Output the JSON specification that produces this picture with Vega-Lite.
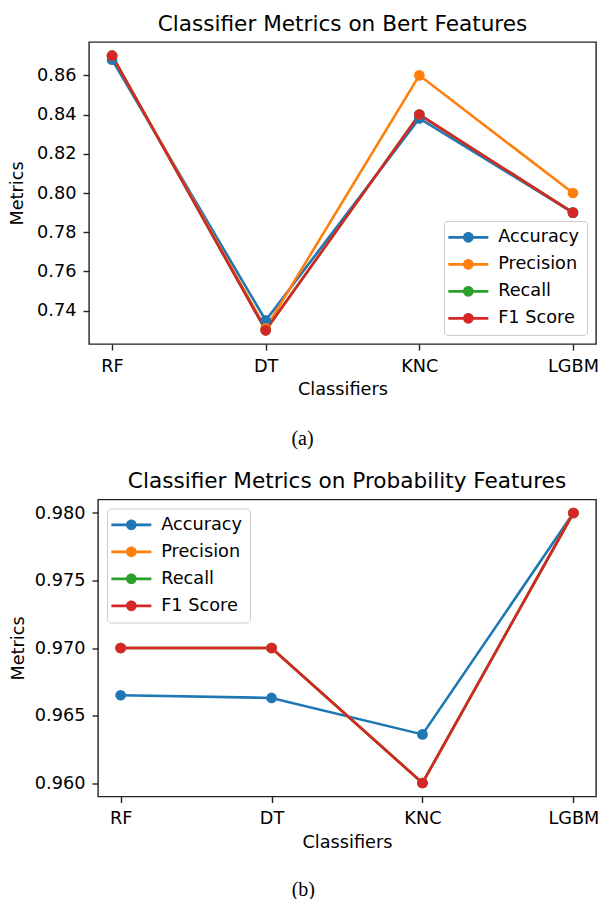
{
  "$schema": "https://vega.github.io/schema/vega-lite/v6.json",
  "padding": {"left": 7, "top": 13, "right": 0, "bottom": 0},
  "align": "none",
  "spacing": 20.5,
  "resolve": {"scale": {"color": "independent", "x": "independent", "y": "independent"}, "legend": {"color": "independent"}},
  "config": {
    "font": "DejaVu Sans",
    "view": {"stroke": "#222", "strokeWidth": 1.4},
    "axis": {"grid": false, "domain": false, "tickColor": "#222", "tickWidth": 1.4, "tickSize": 6, "labelFontSize": 17.7, "labelColor": "#000", "labelFont": "DejaVu Sans", "titleFont": "DejaVu Sans", "titleFontSize": 17.7, "titleFontWeight": "normal", "titleColor": "#000", "labelPadding": 7},
    "axisX": {"titlePadding": 6, "labelAngle": 0}
  },
  "vconcat": [
    {
      "title": {"text": "(a)", "orient": "bottom", "anchor": "middle", "font": "Liberation Serif", "fontSize": 20, "fontWeight": "normal", "color": "#000", "offset": 30, "dx": -1},
      "resolve": {"scale": {"color": "independent"}, "legend": {"color": "independent"}},
      "vconcat": [
        {
          "width": 507,
          "height": 302,
          "title": {"text": "Classifier Metrics on Bert Features", "fontSize": 21.6, "font": "DejaVu Sans", "fontWeight": "normal", "offset": 6.5, "color": "#000", "anchor": "middle"},
          "data": {"values": [
            {"Classifier": "RF", "Metric": "Accuracy", "Value": 0.868},
            {"Classifier": "DT", "Metric": "Accuracy", "Value": 0.735},
            {"Classifier": "KNC", "Metric": "Accuracy", "Value": 0.838},
            {"Classifier": "LGBM", "Metric": "Accuracy", "Value": 0.79},
            {"Classifier": "RF", "Metric": "Precision", "Value": 0.87},
            {"Classifier": "DT", "Metric": "Precision", "Value": 0.731},
            {"Classifier": "KNC", "Metric": "Precision", "Value": 0.86},
            {"Classifier": "LGBM", "Metric": "Precision", "Value": 0.8},
            {"Classifier": "RF", "Metric": "Recall", "Value": 0.87},
            {"Classifier": "DT", "Metric": "Recall", "Value": 0.73},
            {"Classifier": "KNC", "Metric": "Recall", "Value": 0.84},
            {"Classifier": "LGBM", "Metric": "Recall", "Value": 0.79},
            {"Classifier": "RF", "Metric": "F1 Score", "Value": 0.87},
            {"Classifier": "DT", "Metric": "F1 Score", "Value": 0.73},
            {"Classifier": "KNC", "Metric": "F1 Score", "Value": 0.84},
            {"Classifier": "LGBM", "Metric": "F1 Score", "Value": 0.79}
          ]},
          "encoding": {
            "x": {"field": "Classifier", "type": "nominal", "sort": null, "scale": {"type": "point", "domain": ["RF", "DT", "KNC", "LGBM"], "padding": 0.15}, "axis": {"title": "Classifiers", "labelAngle": 0}},
            "y": {"field": "Value", "type": "quantitative", "scale": {"domain": [0.723, 0.877], "nice": false, "zero": false}, "axis": {"title": "Metrics", "titlePadding": 10, "values": [0.74, 0.76, 0.78, 0.8, 0.82, 0.84, 0.86], "format": ".2f"}},
            "color": {"field": "Metric", "type": "nominal", "scale": {"domain": ["Accuracy", "Precision", "Recall", "F1 Score"], "range": ["#1f77b4", "#ff7f0e", "#2ca02c", "#d62728"]},
              "legend": {"title": null, "orient": "bottom-right", "offset": 9, "symbolType": "M-4,-0.26H4V0.26H-4Z M1.07,0A1.07,1.07,0,1,1,-1.07,0A1.07,1.07,0,1,1,1.07,0Z", "symbolSize": 100, "symbolOffset": 8, "symbolStrokeWidth": 0, "symbolOpacity": 1, "labelOffset": 21, "labelFontSize": 17.7, "labelFont": "DejaVu Sans", "labelColor": "#000", "padding": 7.5, "rowPadding": 8, "strokeColor": "#cccccc", "fillColor": "rgba(255,255,255,0.8)", "cornerRadius": 3.5}}
          },
          "layer": [
            {"mark": {"type": "line", "strokeWidth": 2.6}, "encoding": {"order": {"value": null}}},
            {"mark": {"type": "point", "filled": true, "size": 115, "opacity": 1}}
          ]
        }
      ]
    },
    {
      "title": {"text": "(b)", "orient": "bottom", "anchor": "middle", "font": "Liberation Serif", "fontSize": 20, "fontWeight": "normal", "color": "#000", "offset": 28, "dx": -1},
      "resolve": {"scale": {"color": "independent"}, "legend": {"color": "independent"}},
      "bounds": "flush",
      "spacing": 0,
      "hconcat": [
        {"width": 9, "height": 10, "view": {"stroke": null}, "data": {"values": []}, "mark": "point"},
        {
          "width": 498,
          "height": 297,
          "title": {"text": "Classifier Metrics on Probability Features", "fontSize": 21.6, "font": "DejaVu Sans", "fontWeight": "normal", "offset": 6.5, "color": "#000", "anchor": "middle"},
          "data": {"values": [
            {"Classifier": "RF", "Metric": "Accuracy", "Value": 0.9665},
            {"Classifier": "DT", "Metric": "Accuracy", "Value": 0.9663},
            {"Classifier": "KNC", "Metric": "Accuracy", "Value": 0.9636},
            {"Classifier": "LGBM", "Metric": "Accuracy", "Value": 0.98},
            {"Classifier": "RF", "Metric": "Precision", "Value": 0.97},
            {"Classifier": "DT", "Metric": "Precision", "Value": 0.97},
            {"Classifier": "KNC", "Metric": "Precision", "Value": 0.96},
            {"Classifier": "LGBM", "Metric": "Precision", "Value": 0.98},
            {"Classifier": "RF", "Metric": "Recall", "Value": 0.97},
            {"Classifier": "DT", "Metric": "Recall", "Value": 0.97},
            {"Classifier": "KNC", "Metric": "Recall", "Value": 0.96},
            {"Classifier": "LGBM", "Metric": "Recall", "Value": 0.98},
            {"Classifier": "RF", "Metric": "F1 Score", "Value": 0.97},
            {"Classifier": "DT", "Metric": "F1 Score", "Value": 0.97},
            {"Classifier": "KNC", "Metric": "F1 Score", "Value": 0.96},
            {"Classifier": "LGBM", "Metric": "F1 Score", "Value": 0.98}
          ]},
          "encoding": {
            "x": {"field": "Classifier", "type": "nominal", "sort": null, "scale": {"type": "point", "domain": ["RF", "DT", "KNC", "LGBM"], "padding": 0.15}, "axis": {"title": "Classifiers", "labelAngle": 0}},
            "y": {"field": "Value", "type": "quantitative", "scale": {"domain": [0.959, 0.981], "nice": false, "zero": false}, "axis": {"title": "Metrics", "titlePadding": 6.5, "values": [0.96, 0.965, 0.97, 0.975, 0.98], "format": ".3f"}},
            "color": {"field": "Metric", "type": "nominal", "scale": {"domain": ["Accuracy", "Precision", "Recall", "F1 Score"], "range": ["#1f77b4", "#ff7f0e", "#2ca02c", "#d62728"]},
              "legend": {"title": null, "orient": "top-left", "offset": 9, "symbolType": "M-4,-0.26H4V0.26H-4Z M1.07,0A1.07,1.07,0,1,1,-1.07,0A1.07,1.07,0,1,1,1.07,0Z", "symbolSize": 100, "symbolOffset": 8, "symbolStrokeWidth": 0, "symbolOpacity": 1, "labelOffset": 21, "labelFontSize": 17.7, "labelFont": "DejaVu Sans", "labelColor": "#000", "padding": 7.5, "rowPadding": 8, "strokeColor": "#cccccc", "fillColor": "rgba(255,255,255,0.8)", "cornerRadius": 3.5}}
          },
          "layer": [
            {"mark": {"type": "line", "strokeWidth": 2.6}, "encoding": {"order": {"value": null}}},
            {"mark": {"type": "point", "filled": true, "size": 115, "opacity": 1}}
          ]
        }
      ]
    }
  ]
}
